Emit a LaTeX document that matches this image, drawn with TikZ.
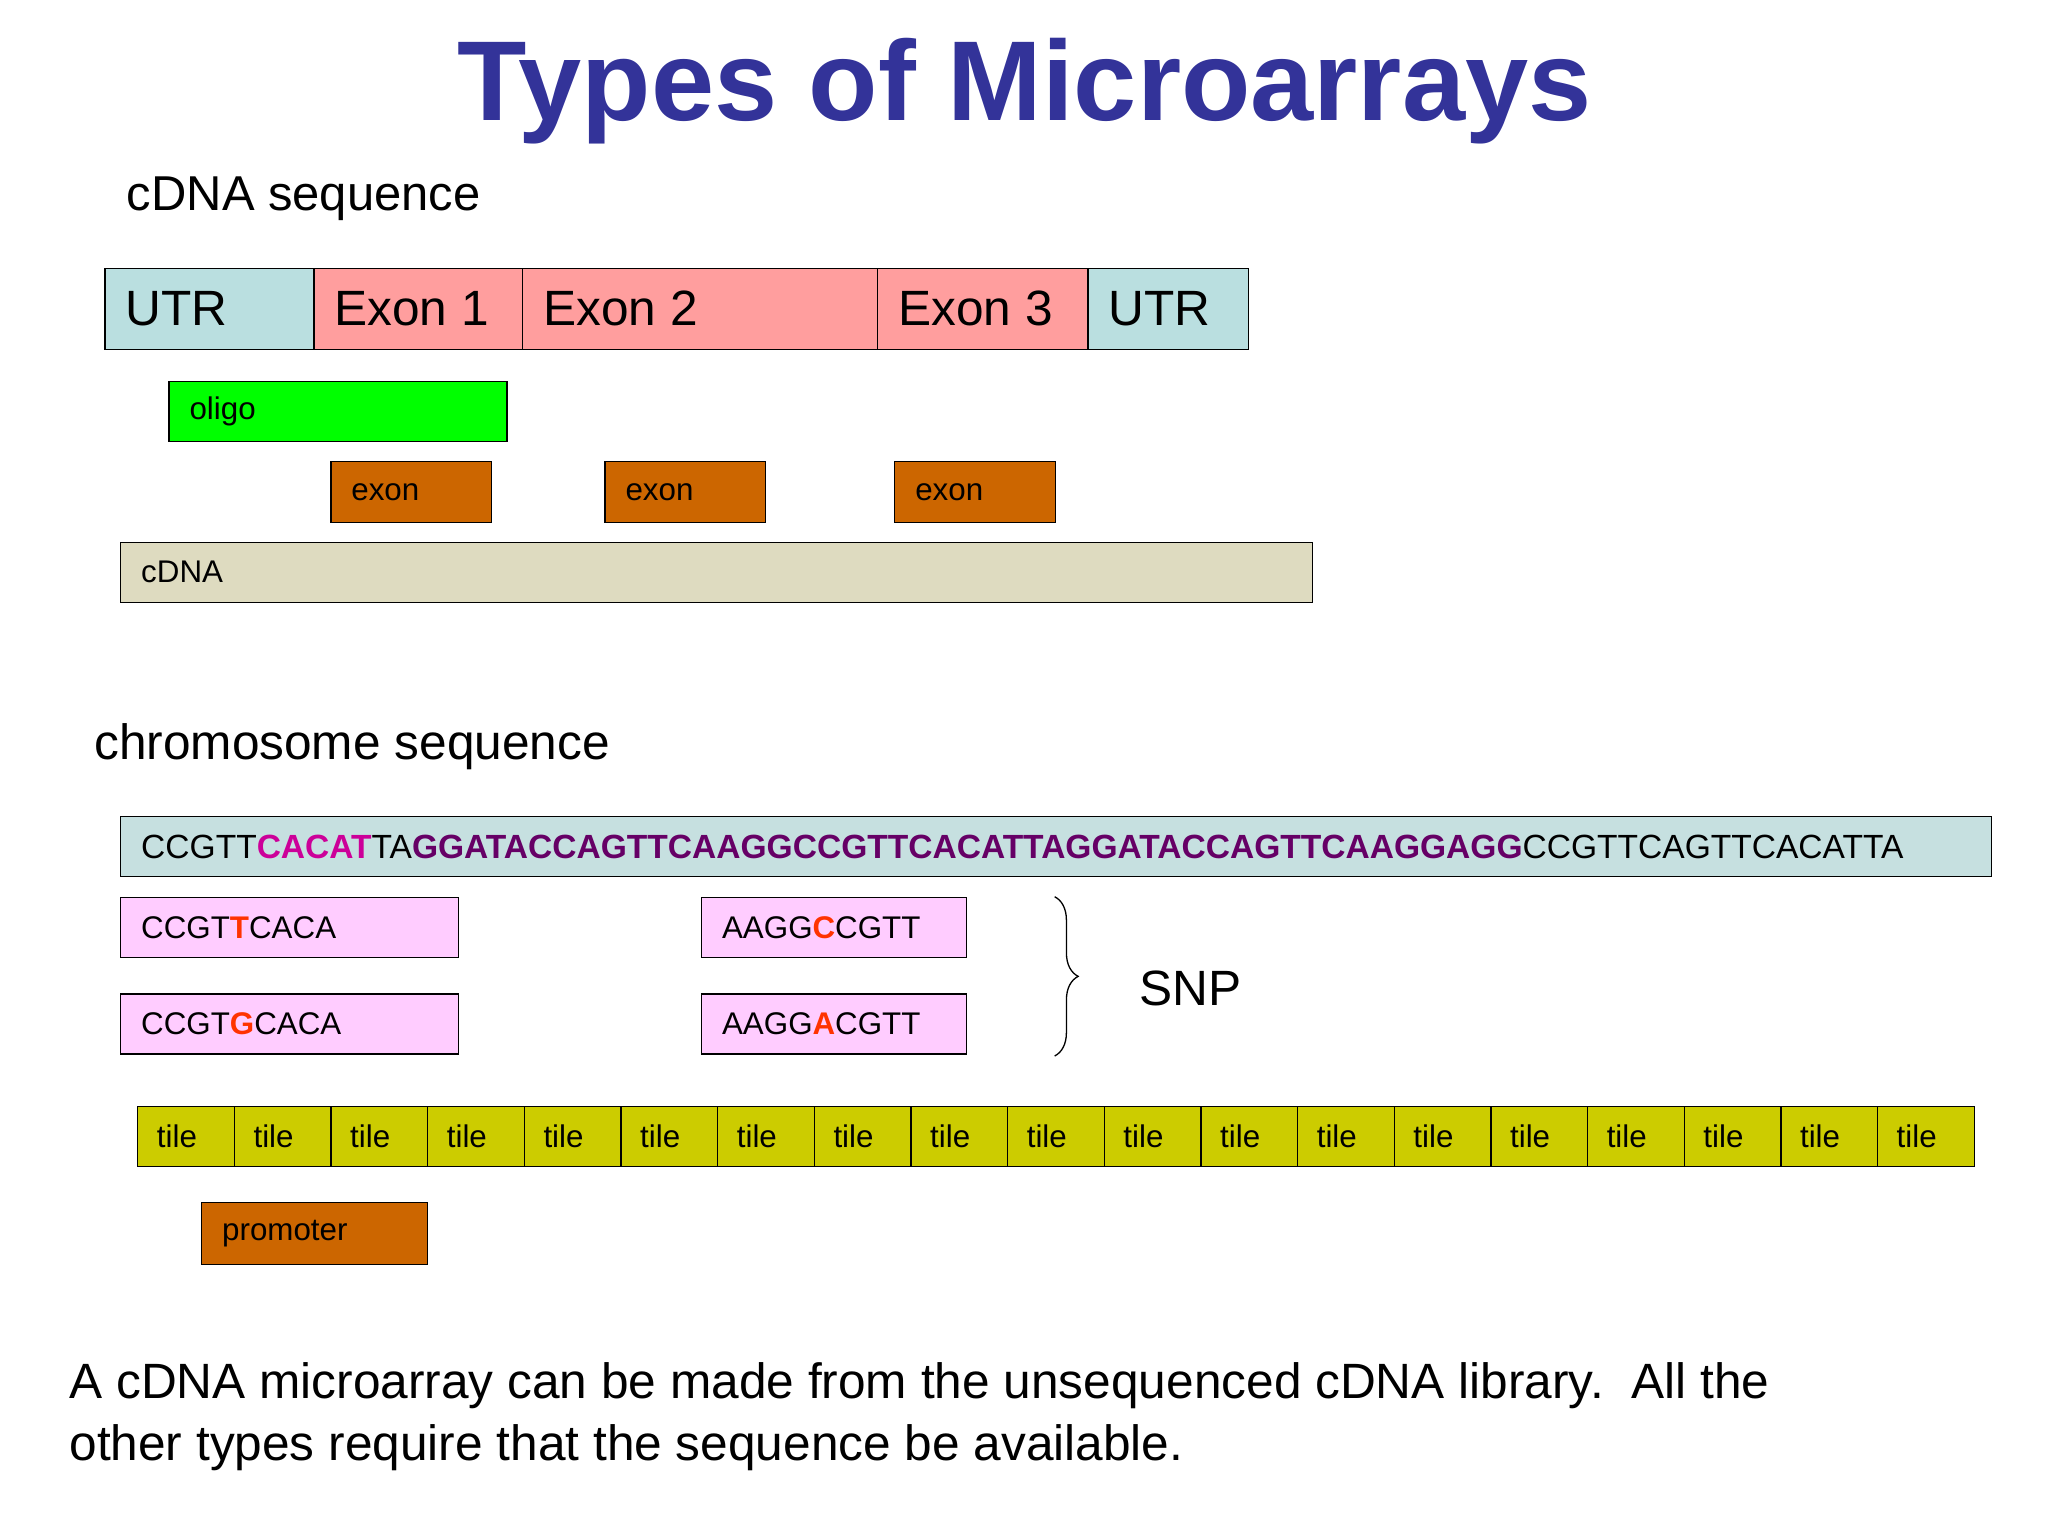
\documentclass[tikz,border=0pt]{standalone}
\usepackage{fontspec}
\setmainfont{Liberation Sans}
\usetikzlibrary{decorations.pathreplacing}
\definecolor{titleblue}{RGB}{51,51,153}
\definecolor{utrc}{RGB}{186,223,224}
\definecolor{exonc}{RGB}{255,158,158}
\definecolor{oligoc}{RGB}{0,255,0}
\definecolor{brownc}{RGB}{204,102,0}
\definecolor{cdnac}{RGB}{222,219,192}
\definecolor{chromc}{RGB}{198,224,224}
\definecolor{snpc}{RGB}{255,204,255}
\definecolor{tilec}{RGB}{204,204,0}
\definecolor{magc}{RGB}{204,0,153}
\definecolor{purpc}{RGB}{102,0,102}
\definecolor{redc}{RGB}{255,51,0}
\begin{document}
\begin{tikzpicture}[x=1pt,y=1pt,yscale=-1,
  box/.style={draw,line width=1pt,anchor=north west,inner sep=0pt},
  big/.style={font=\fontsize{38}{44}\selectfont},
  small/.style={font=\fontsize{24}{28}\selectfont},
  lbl/.style={anchor=west,inner sep=0pt}]
\useasboundingbox (0,0) rectangle (1569,1177);
\node[text=titleblue,font=\fontsize{87}{96}\bfseries] (title) at (785,70) {Types of Microarrays};
\node[lbl,font=\fontsize{37.5}{40}\selectfont] (cs) at (97,152) {cDNA sequence};
% cDNA sequence bar
\foreach \n/\a/\b/\c/\t in {u1/80/240/utrc/UTR, e1/240/400/exonc/Exon 1, e2/400/672/exonc/Exon 2, e3/672/833/exonc/Exon 3, u2/833/956/utrc/UTR}{
  \node[box,fill=\c,minimum width=\b-\a,minimum height=62] (\n) at (\a,205) {};
  \node[lbl,big] at ([xshift=16]\n.west) {\t};
}
\node[box,fill=oligoc,minimum width=259,minimum height=46] (oligo) at (129,292) {};
\node[lbl,small] at ([xshift=16]oligo.west) {oligo};
\foreach \n/\a in {x1/253,x2/463,x3/685}{
  \node[box,fill=brownc,minimum width=123,minimum height=47] (\n) at (\a,353) {};
  \node[lbl,small] at ([xshift=16]\n.west) {exon};
}
\node[box,fill=cdnac,minimum width=913,minimum height=46] (cdna) at (92,415) {};
\node[lbl,small] at ([xshift=16]cdna.west) {cDNA};
% chromosome
\node[lbl,font=\fontsize{38}{40}\selectfont] (chs) at (72,572) {chromosome sequence};
\node[box,fill=chromc,minimum width=1433,minimum height=46] (chrom) at (92,625) {};
\node[lbl,font=\fontsize{25.7}{28}\selectfont] at ([xshift=16]chrom.west) {CCGTT\textcolor{magc}{\bfseries CACAT}TA\textcolor{purpc}{\bfseries GGATACCAGTTCAAGGCCGTTCACATTAGGATACCAGTTCAAGGAGG}CCGTTCAGTTCACATTA};
\foreach \n/\a/\w/\t in {p1/92/259/CCGT\textcolor{redc}{\bfseries T}CACA, p3/537/203/AAGG\textcolor{redc}{\bfseries C}CGTT}{
  \node[box,fill=snpc,minimum width=\w,minimum height=46] (\n) at (\a,687) {};
  \node[lbl,small] at ([xshift=16]\n.west) {\t};
}
\foreach \n/\a/\w/\t in {p2/92/259/CCGT\textcolor{redc}{\bfseries G}CACA, p4/537/203/AAGG\textcolor{redc}{\bfseries A}CGTT}{
  \node[box,fill=snpc,minimum width=\w,minimum height=46] (\n) at (\a,761) {};
  \node[lbl,small] at ([xshift=16]\n.west) {\t};
}
\coordinate (bt) at (808,687);
\coordinate (bb) at (808,809);
\draw[line width=1pt,decorate,decoration={brace,amplitude=18pt}] (bt) -- (bb);
\node[lbl,big] (snp) at (873,757) {SNP};
% tiles
\foreach \i in {0,...,18}{
  \node[box,fill=tilec,minimum width=74.05,minimum height=46] (t\i) at (105+74.05*\i,847) {};
  \node[lbl,small] at ([xshift=15]t\i.west) {tile};
}
\node[box,fill=brownc,minimum width=173,minimum height=47] (prom) at (154,921) {};
\node[lbl,small] at ([xshift=16]prom.west) {promoter};
\node[anchor=north west,align=left,inner sep=0pt,font=\fontsize{38}{47}\selectfont] (txt) at (53,1044) {A cDNA microarray can be made from the unsequenced cDNA library.\ \ All the\\other types require that the sequence be available.};
\end{tikzpicture}
\end{document}
